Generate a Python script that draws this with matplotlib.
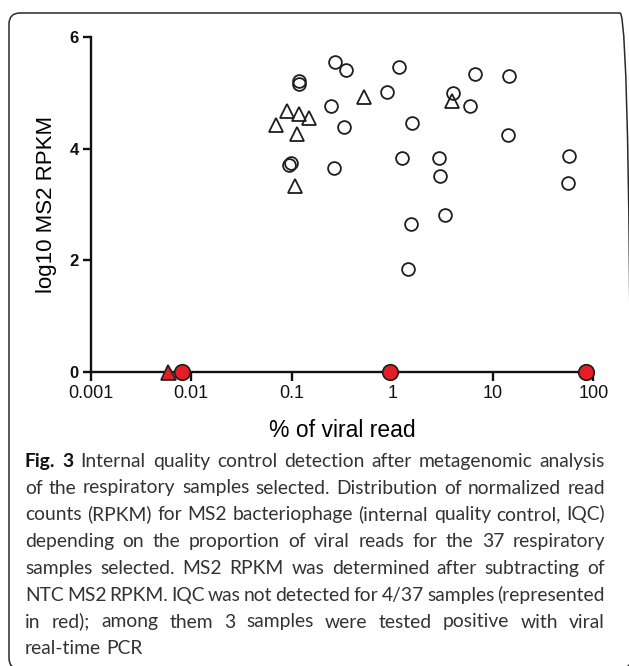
import numpy as np
import matplotlib
matplotlib.use('Agg')
from matplotlib import pyplot as plt
from matplotlib.patches import FancyBboxPatch
from matplotlib.transforms import IdentityTransform
from matplotlib.ticker import NullLocator

# IQC detected - open circles
circle_pct = [0.268, 0.345, 1.17, 6.61, 14.6, 0.117, 0.117, 0.887, 4.06, 0.245,
              5.93, 1.57, 0.330, 14.1, 1.25, 2.92, 57.7, 0.0987, 0.0943, 0.262,
              2.99, 55.8, 3.38, 1.54, 1.43]
circle_log_rpkm = [5.54, 5.40, 5.45, 5.33, 5.30, 5.21, 5.15, 5.02, 5.00, 4.76,
                   4.76, 4.46, 4.38, 4.24, 3.84, 3.84, 3.87, 3.75, 3.71, 3.66,
                   3.51, 3.38, 2.81, 2.65, 1.84]
# IQC detected - open triangles
triangle_pct = [0.521, 3.93, 0.090, 0.118, 0.150, 0.069, 0.112, 0.107]
triangle_log_rpkm = [4.92, 4.85, 4.68, 4.61, 4.55, 4.43, 4.26, 3.33]
# IQC not detected (red)
red_circle_pct = [0.00815, 0.944, 85.1]
red_triangle_pct = [0.0059]

x_ticks = [0.001, 0.01, 0.1, 1, 10, 100]
x_tick_labels = ['0.001', '0.01', '0.1', '1', '10', '100']
y_ticks = [0, 2, 4, 6]

caption_lines = [
    'Fig. 3 Internal quality control detection after metagenomic analysis',
    'of the respiratory samples selected. Distribution of normalized read',
    'counts (RPKM) for MS2 bacteriophage (internal quality control, IQC)',
    'depending on the proportion of viral reads for the 37 respiratory',
    'samples selected. MS2 RPKM was determined after subtracting of',
    'NTC MS2 RPKM. IQC was not detected for 4/37 samples (represented',
    'in red); among them 3 samples were tested positive with viral',
    'real-time PCR',
]

W, H = 629, 666
plt.rcParams['font.family'] = ['Liberation Sans', 'DejaVu Sans']
fig = plt.figure(figsize=(W / 100, H / 100), dpi=100)

# rounded frame (pixel coords, origin bottom-left)
frame = FancyBboxPatch((9, -3), 622, H - 13 + 3,
                       boxstyle='round,pad=0,rounding_size=11',
                       transform=IdentityTransform(), fill=False,
                       edgecolor='#2a2a2a', linewidth=1.1)
fig.patches.append(frame)

ax = fig.add_axes([90.7 / W, 1 - 372.3 / H, 502.6 / W, 335.6 / H])
edge = '#1e1e1e'
red = '#e31e26'

ax.plot(circle_pct, circle_log_rpkm, 'o', ms=9.2, mfc='none', mec=edge, mew=1.3)
ax.plot(triangle_pct, triangle_log_rpkm, '^', ms=9.6, mfc='none', mec=edge, mew=1.3)
ax.plot(red_triangle_pct, np.zeros(len(red_triangle_pct)), '^', ms=10.8, mfc=red,
        mec=edge, mew=1.2, clip_on=False, zorder=5)
ax.plot(red_circle_pct, np.zeros(len(red_circle_pct)), 'o', ms=11.2, mfc=red,
        mec=edge, mew=1.2, clip_on=False, zorder=5)

ax.set_xscale('log')
ax.set_xlim(0.001, 100)
ax.set_ylim(0, 6)
ax.set_xticks(x_ticks)
ax.set_xticklabels(x_tick_labels)
ax.xaxis.set_minor_locator(NullLocator())
ax.set_yticks(y_ticks)
ax.set_yticklabels([str(v) for v in y_ticks], fontweight='bold')

for s in ['top', 'right']:
    ax.spines[s].set_visible(False)
for s in ['left', 'bottom']:
    ax.spines[s].set_linewidth(1.7)
    ax.spines[s].set_color('#111111')

ax.tick_params(axis='x', direction='out', length=6.5, width=1.7, labelsize=13,
               pad=3, colors='#111111')
ax.tick_params(axis='y', direction='out', length=5.5, width=1.7, labelsize=12,
               pad=3, colors='#111111')

ax.set_xlabel('% of viral read', fontsize=16.5, va='baseline')
ax.xaxis.set_label_coords(0.5, (372.3 - 436.7) / 335.6)
ax.set_ylabel('log10 MS2 RPKM', fontsize=16, va='baseline')
ax.yaxis.set_label_coords((52.3 - 90.7) / 502.6, 0.5)

# caption, justified line by line
renderer = fig.canvas.get_renderer()
x0, x1 = 25, 605
base0, step = 466.7, 26.8
cap_font = ['Lato', 'DejaVu Sans']


def word_widths(words, size, first):
    out = []
    for j, w in enumerate(words):
        bold = first and j < 2
        t = fig.text(0, 0, w, fontsize=size, family=cap_font,
                     fontweight='bold' if bold else 'normal')
        out.append(t.get_window_extent(renderer).width)
        t.remove()
    return out


# fit font size between the first line and the widest line
natural = []
for i, line in enumerate(caption_lines[:-1]):
    words = line.split(' ')
    ws = word_widths(words, 14, i == 0)
    natural.append(sum(ws) + (len(words) - 1) * 0.22 * 14 * 100 / 72)
cap_size = 14 * (x1 - x0) / (0.4 * natural[0] + 0.6 * max(natural))

for i, line in enumerate(caption_lines):
    words = line.split(' ')
    y = 1 - (base0 + i * step) / H
    texts = []
    for j, w in enumerate(words):
        bold = (i == 0 and j < 2)
        t = fig.text(0, y, w, fontsize=cap_size, family=cap_font, va='baseline',
                     fontweight='bold' if bold else 'normal',
                     color='#111111' if bold else '#333333')
        texts.append(t)
    widths = [t.get_window_extent(renderer).width for t in texts]
    if i < len(caption_lines) - 1:
        gap = (x1 - x0 - sum(widths)) / (len(words) - 1)
    else:
        gap = 0.25 * cap_size * 100 / 72
    x = x0
    for t, w in zip(texts, widths):
        t.set_x(x / W)
        x += w + gap

fig.savefig('out.png', dpi=100)
